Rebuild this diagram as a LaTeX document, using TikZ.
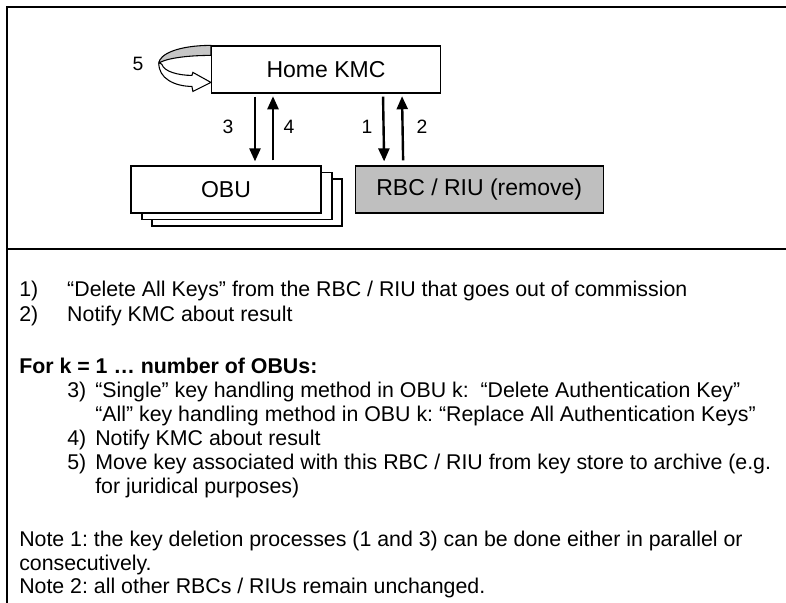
\documentclass[tikz,border=0pt]{standalone}
\usepackage{fontspec}
\setmainfont{Liberation Sans}
\usetikzlibrary{arrows.meta,positioning}
\frenchspacing

\begin{document}
\begin{tikzpicture}[x=0.75pt,y=-0.75pt,
  every node/.style={font=\fontsize{17.25}{20}\selectfont},
  box/.style={draw, line width=0.9pt, minimum height=35.25pt, inner sep=0pt},
  num/.style={font=\fontsize{14.5}{16}\selectfont},
  txt/.style={anchor=base west, inner sep=0pt, font=\fontsize{16}{18}\selectfont},
  arr/.style={line width=1.8pt, -{Triangle[width=8.25pt,length=9.75pt]}}]
  \useasboundingbox (0,0) rectangle (786,603);
  \draw [line width=1.5pt] (7,603) |- (786,7);
  \draw [line width=1.5pt] (7,249) -- (786,249);

  \node [box, minimum width=171.75pt] (kmc) at (326,69.5) {Home KMC};
  \node [box, fill=white, minimum width=142.5pt] (obu3) at (247,202.5) {};
  \node [box, fill=white, minimum width=142.5pt] (obu2) at (237,196) {};
  \node [box, fill=white, minimum width=142.5pt] (obu) at (226,189.5) {OBU};
  \node [box, fill=gray!50, minimum width=186pt, right=24.75pt of obu] (rbc) {RBC / RIU (remove)};

  \draw [arr, shorten <=2.25pt, shorten >=3pt] ([xshift=-53.25pt]kmc.south) -- ([xshift=21.75pt]obu.north);
  \draw [arr, shorten <=3.75pt, shorten >=2pt] ([xshift=35.25pt]obu.north) -- ([xshift=-39.75pt]kmc.south);
  \draw [arr, shorten <=2.25pt, shorten >=3pt] ([xshift=42.75pt]kmc.south) -- ([xshift=-71.25pt]rbc.north);
  \draw [arr, shorten <=3.75pt, shorten >=2pt] ([xshift=-57pt]rbc.north) -- ([xshift=57pt]kmc.south);
  \node [num] (n3) at (228,127) {3};
  \node [num] (n4) at (289,127) {4};
  \node [num] (n1) at (367,127) {1};
  \node [num] (n2) at (422,127) {2};

  \begin{scope}[shift={(kmc.north west)}]
    \filldraw [fill=gray!45, line width=0.8pt] (0,0) .. controls (-33,0) and (-52,9) .. (-52,18)
      .. controls (-48,14) and (-28,10) .. (0,10) -- cycle;
    \filldraw [fill=white, line width=0.8pt] (-52,17) .. controls (-53,33) and (-36,41) .. (-19,41)
      -- (-18,46) -- (0,37) -- (-18,27) -- (-19,30) .. controls (-33,30) and (-47,26) .. (-49,19) -- cycle;
  \end{scope}
  \node [num] (n5) at (138,64) {5};

  \node [txt] (t1) at (19,296) {\makebox[36pt][l]{1)}“Delete All Keys” from the RBC / RIU that goes out of commission};
  \node [txt] (t2) at (19,321) {\makebox[36pt][l]{2)}Notify KMC about result};
  \node [txt] (t3) at (19,373) {\textbf{For k = 1 … number of OBUs:}};
  \node [txt] (t4) at (67,397) {\makebox[21pt][l]{3)}“Single” key handling method in OBU k:~ “Delete Authentication Key”};
  \node [txt] (t5) at (95,421) {“All” key handling method in OBU k: “Replace All Authentication Keys”};
  \node [txt] (t6) at (67,445) {\makebox[21pt][l]{4)}Notify KMC about result};
  \node [txt] (t7) at (67,469) {\makebox[21pt][l]{5)}Move key associated with this RBC / RIU from key store to archive (e.g.};
  \node [txt] (t8) at (95,493) {for juridical purposes)};
  \node [txt] (t9) at (19,546) {Note 1: the key deletion processes (1 and 3) can be done either in parallel or};
  \node [txt] (t10) at (19,570) {consecutively.};
  \node [txt] (t11) at (19,593) {Note 2: all other RBCs / RIUs remain unchanged.};
\end{tikzpicture}
\end{document}
